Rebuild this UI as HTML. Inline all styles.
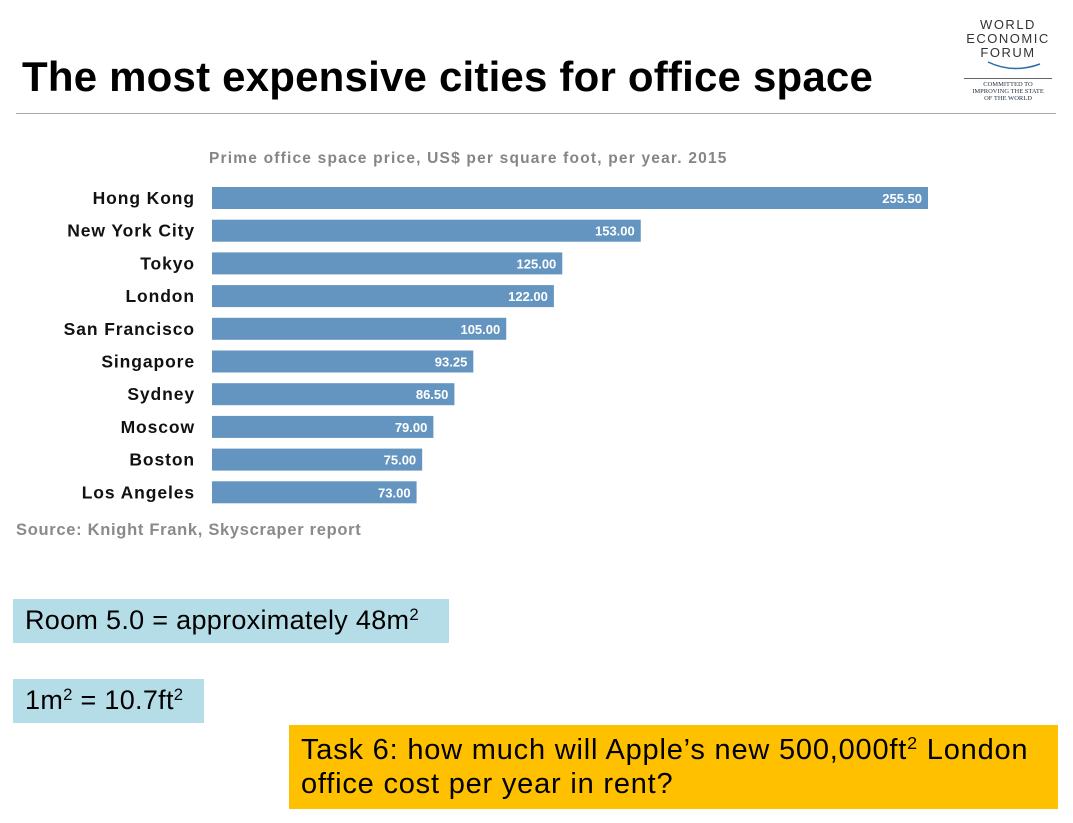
<!DOCTYPE html>
<html><head><meta charset="utf-8">
<style>
body{margin:0;width:1073px;height:823px;background:#fff;position:relative;overflow:hidden;font-family:"Liberation Sans",Arial,sans-serif;}
.abs{position:absolute;}
.title{left:22px;top:53px;font-size:42px;font-weight:bold;color:#000;letter-spacing:0.2px;white-space:nowrap;}
.rule{left:16px;top:113px;width:1040px;height:1px;background:#aaa;}
.box{position:absolute;background:#b5dde7;font-size:27px;color:#000;box-sizing:border-box;white-space:nowrap;}
sup{font-size:62%;vertical-align:0.55em;line-height:0;}
</style></head><body>
<div class="abs title">The most expensive cities for office space</div>
<div class="abs rule"></div>
<div class="abs" style="left:958px;top:18px;width:100px;text-align:center;">
 <div style="font-size:13px;line-height:14px;letter-spacing:1.5px;color:#333;">WORLD<br>ECONOMIC<br>FORUM</div>
 <svg width="100" height="14" style="display:block"><path d="M30 2 Q55 14 82 4" stroke="#2a6da8" stroke-width="1.5" fill="none"/></svg>
 <div style="border-top:1px solid #666;margin:4px 6px 0;padding-top:2px;font-family:'Liberation Serif',serif;font-size:6.5px;line-height:7px;color:#234;">COMMITTED TO<br>IMPROVING THE STATE<br>OF THE WORLD</div>
</div>
<svg class="abs" style="left:0;top:0" width="1073" height="560" id="chart">
 <text x="209" y="163" font-size="15.5" font-weight="bold" letter-spacing="1.2" fill="#858585" font-family="Liberation Sans, Arial, sans-serif">Prime office space price, US$ per square foot, per year. 2015</text>
 <text x="16" y="535" font-size="16.5" font-weight="bold" letter-spacing="0.7" fill="#8a8a8a" font-family="Liberation Sans, Arial, sans-serif">Source: Knight Frank, Skyscraper report</text>
</svg>
<div class="box" style="left:13px;top:599px;width:436px;height:44px;padding:6px 0 0 12px;letter-spacing:0.3px;">Room 5.0 = approximately 48m<sup>2</sup></div>
<div class="box" style="left:13px;top:679px;width:191px;height:44px;padding:6px 0 0 12px;letter-spacing:0.3px;">1m<sup>2</sup> = 10.7ft<sup>2</sup></div>
<div class="box" style="left:289px;top:725px;width:769px;height:84px;background:#ffc000;padding:8px 0 0 12px;line-height:34px;font-size:29px;letter-spacing:0.8px;">Task 6: how much will Apple’s new 500,000ft<sup>2</sup> London<br>office cost per year in rent?</div>
<script>
const categories=["Hong Kong","New York City","Tokyo","London","San Francisco","Singapore","Sydney","Moscow","Boston","Los Angeles"];
const values=[255.5,153,125,122,105,93.25,86.5,79,75,73];
const labels=["255.50","153.00","125.00","122.00","105.00","93.25","86.50","79.00","75.00","73.00"];
const svg=document.getElementById('chart');
const NS='http://www.w3.org/2000/svg';
const x0=212,xScale=716/255.5;
function xPos(v){return x0+v*xScale;}
function yPos(i){return 187+i*32.7;}
categories.forEach((c,i)=>{
 const y=yPos(i);
 const r=document.createElementNS(NS,'rect');
 r.setAttribute('x',x0);r.setAttribute('y',y);r.setAttribute('width',xPos(values[i])-x0);r.setAttribute('height',22);r.setAttribute('fill','#6495c0');
 
 
 svg.appendChild(r);
 const t=document.createElementNS(NS,'text');
 t.setAttribute('x',xPos(values[i])-6);t.setAttribute('y',y+16);t.setAttribute('text-anchor','end');t.setAttribute('font-size','13');t.setAttribute('fill','#fff');t.setAttribute('font-weight','bold');t.setAttribute('font-family','Liberation Sans, Arial, sans-serif');
 t.textContent=labels[i];
 
 
 svg.appendChild(t);
 const l=document.createElementNS(NS,'text');
 l.setAttribute('x',195);l.setAttribute('y',y+17);l.setAttribute('text-anchor','end');l.setAttribute('font-size','17.5');l.setAttribute('letter-spacing','0.9');l.setAttribute('fill','#111');l.setAttribute('font-weight','bold');l.setAttribute('font-family','Liberation Sans, Arial, sans-serif');
 l.textContent=c;
 
 
 svg.appendChild(l);
});
</script>
</body></html>
